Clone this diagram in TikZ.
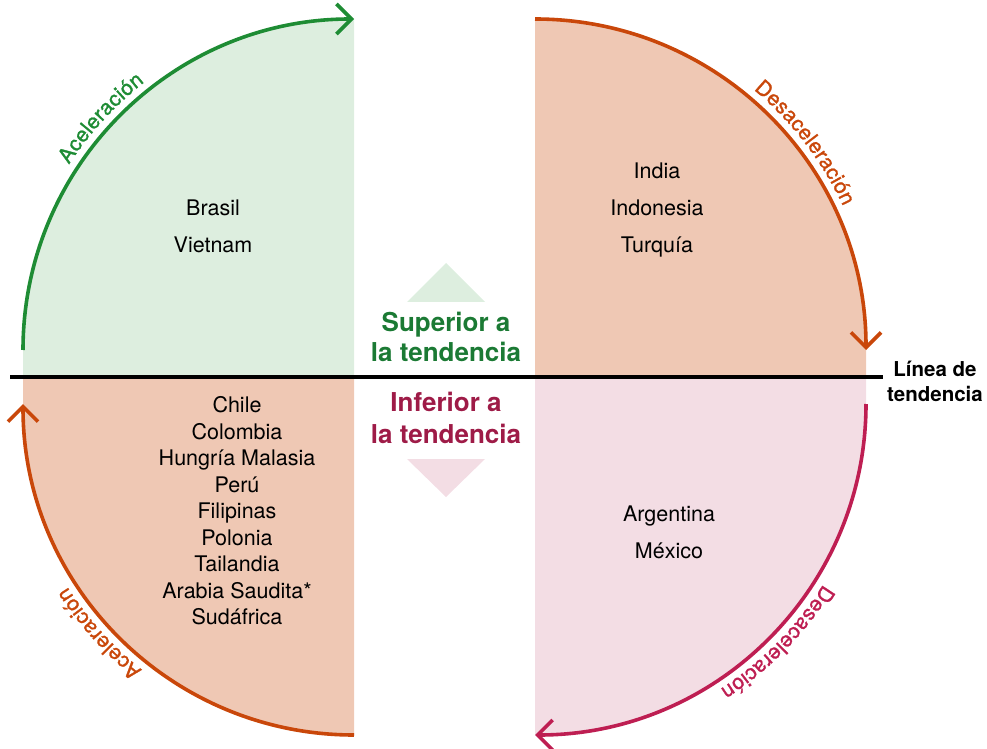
\documentclass[tikz,border=0pt]{standalone}
\usepackage{fontspec}
\setmainfont{TeX Gyre Heros}
\newfontfamily\arclabelfont[FakeBold=1.2]{TeX Gyre Heros}
\usetikzlibrary{arrows.meta,decorations.text}
\definecolor{gfill}{HTML}{DDEEDF}
\definecolor{gline}{HTML}{1E8C34}
\definecolor{gtext}{HTML}{1B7A34}
\definecolor{pfill}{HTML}{EFC8B4}
\definecolor{oline}{HTML}{C9470A}
\definecolor{rfill}{HTML}{F3DDE4}
\definecolor{rline}{HTML}{BE1E52}
\definecolor{rtext}{HTML}{9E1B47}
\begin{document}
\begin{tikzpicture}[x=1pt,y=1pt,
  arcline/.style={line width=3.6pt,-{Straight Barb[length=15pt,width=30pt]}},
  country/.style={align=center,inner sep=0pt,font=\fontsize{21.5}{37}\selectfont},
  title/.style={anchor=base,inner sep=0pt,font=\fontsize{26}{30}\selectfont\bfseries},
]
\useasboundingbox (0,0) rectangle (987,748);
% quadrant fills
\fill[gfill] (23,371) -- (23,398) arc[start angle=180,end angle=90,radius=331] -- (354,371) -- cycle;
\fill[pfill] (535,371) -- (535,729) arc[start angle=90,end angle=0,radius=331] -- (866,371) -- cycle;
\fill[pfill] (23,371) -- (23,344) arc[start angle=180,end angle=270,radius=331] -- (354,371) -- cycle;
\fill[rfill] (535,371) -- (866,371) -- (866,344) arc[start angle=0,end angle=-90,radius=331] -- cycle;
% triangles
\fill[gfill] (407,446) -- (485,446) -- (446,485) -- cycle;
\fill[rfill] (407,289) -- (485,289) -- (446,251) -- cycle;
% trend line
\coordinate (lineL) at (10,371);
\coordinate (lineR) at (883,371);
\draw[line width=3.5pt,black] (lineL) -- (lineR);
% arcs
\draw[arcline,gline] (23,398) arc[start angle=180,end angle=90,radius=331];
\draw[arcline,oline] (535,729) arc[start angle=90,end angle=0,radius=331];
\draw[arcline,oline] (354,13) arc[start angle=270,end angle=180,radius=331];
\draw[arcline,rline] (866,344) arc[start angle=0,end angle=-90,radius=331];
% arc labels
\path[decorate,decoration={text along path,text align=center,raise=9pt,text={|\arclabelfont\fontsize{21}{24}\selectfont\color{gline}|Aceleración}}]
  ([shift={(160:331)}]354,398) arc[start angle=160,end angle=115,radius=331];
\path[decorate,decoration={text along path,text align=center,raise=9pt,text={|\arclabelfont\fontsize{21}{24}\selectfont\color{oline}|Desaceleración}}]
  ([shift={(61:331)}]535,398) arc[start angle=61,end angle=14,radius=331];
\path[decorate,decoration={text along path,text align=center,raise=9pt,text={|\arclabelfont\fontsize{21}{24}\selectfont\color{oline}|Aceleración}}]
  ([shift={(244:331)}]354,344) arc[start angle=244,end angle=200,radius=331];
\path[decorate,decoration={text along path,text align=center,raise=9pt,text={|\arclabelfont\fontsize{21}{24}\selectfont\color{rline}|Desaceleración}}]
  ([shift={(-21:331)}]535,344) arc[start angle=-21,end angle=-68,radius=331];
% countries
\node[country] (ul) at (213,522) {Brasil\\Vietnam};
\node[country] (ur) at (657,537.5) {India\\Indonesia\\Turquía};
\node[country,font=\fontsize{21.5}{26.5}\selectfont] (ll) at (237,237) {Chile\\Colombia\\Hungría Malasia\\Perú\\Filipinas\\Polonia\\Tailandia\\Arabia Saudita*\\Sudáfrica};
\node[country] (lr) at (669,216) {Argentina\\México};
% titles
\node[title,text=gtext] (supA) at (446,417) {Superior a};
\node[title,text=gtext] (supB) at (446,386.5) {la tendencia};
\node[title,text=rtext] (infA) at (446,336.5) {Inferior a};
\node[title,text=rtext] (infB) at (446,305) {la tendencia};
% trend line label
\node[anchor=base,inner sep=0pt,font=\fontsize{20.5}{24}\selectfont\bfseries] (tl1) at (935,371.5) {Línea de};
\node[anchor=base,inner sep=0pt,font=\fontsize{20.5}{24}\selectfont\bfseries] (tl2) at (935,347) {tendencia};
\end{tikzpicture}
\end{document}
